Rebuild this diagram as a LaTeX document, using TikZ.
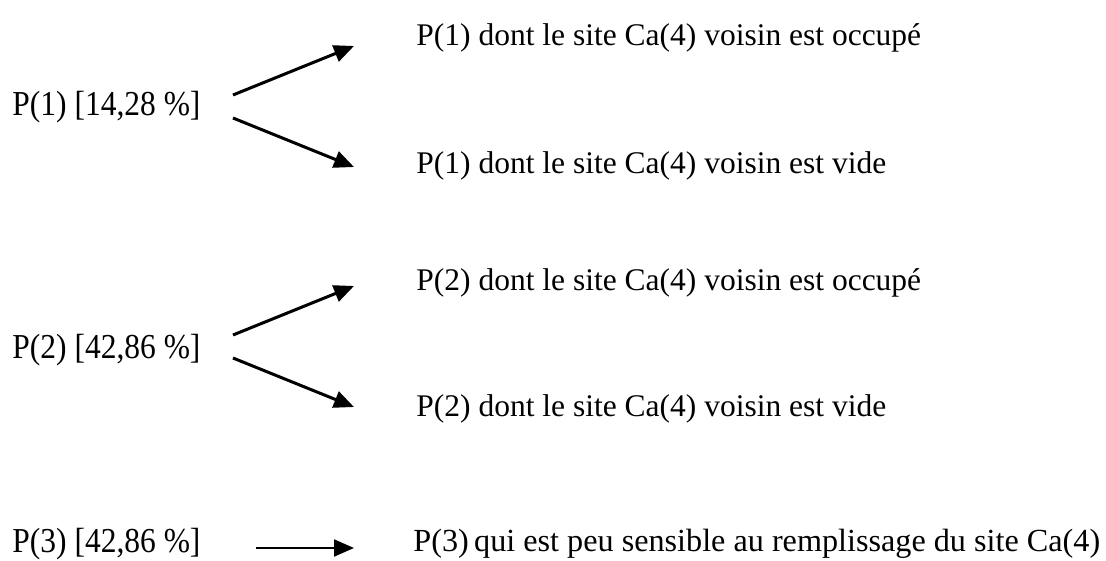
\documentclass[tikz,border=0pt]{standalone}
\usepackage{fontspec}
\setmainfont{Liberation Serif}
\newfontfamily\etroite{Liberation Serif}[FakeStretch=0.9]
\usepackage{tikz}
\usetikzlibrary{arrows.meta}

\begin{document}
\begin{tikzpicture}[x=0.5pt,y=-0.5pt,
	lbl/.style = {anchor=base west, inner sep=0pt, font=\etroite\fontsize{17.5pt}{20pt}\selectfont},
	txt/.style = {anchor=base west, inner sep=0pt, font=\fontsize{15.75pt}{18pt}\selectfont},
	fleche/.style = {line width=1.5pt, -{Triangle[length=10pt,width=8.5pt]}}]
	\useasboundingbox (0,0) rectangle (1106,561);
	% populations de depart
	\node[lbl] (p1) at (12,116) {P(1) [14,28 \%]};
	\node[lbl] (p2) at (12,358) {P(2) [42,86 \%]};
	\node[lbl] (p3) at (12,552) {P(3) [42,86 \%]};
	% sous-populations
	\node[txt] (p1o) at (416,46) {P(1) dont le site Ca(4) voisin est occup\'e};
	\node[txt] (p1v) at (416,174) {P(1) dont le site Ca(4) voisin est vide};
	\node[txt] (p2o) at (416,290) {P(2) dont le site Ca(4) voisin est occup\'e};
	\node[txt] (p2v) at (416,416) {P(2) dont le site Ca(4) voisin est vide};
	\node[txt, font=\fontsize{16.1pt}{18pt}\selectfont] (p3s) at (413,551) {P(3)\,qui est peu sensible au remplissage du site Ca(4)};
	% extremites des fleches
	\coordinate (a1) at (233,95);
	\coordinate (b1) at (233,118);
	\coordinate (a2) at (233,335);
	\coordinate (b2) at (233,358);
	\coordinate (c3) at (256,548);
	\coordinate (t1o) at (354,46);
	\coordinate (t1v) at (354,167);
	\coordinate (t2o) at (354,286);
	\coordinate (t2v) at (354,407);
	\coordinate (t3s) at (354,548);
	\draw[fleche] (a1)--(t1o);
	\draw[fleche] (b1)--(t1v);
	\draw[fleche] (a2)--(t2o);
	\draw[fleche] (b2)--(t2v);
	\draw[fleche, line width=1pt] (c3)--(t3s);
\end{tikzpicture}
\end{document}
